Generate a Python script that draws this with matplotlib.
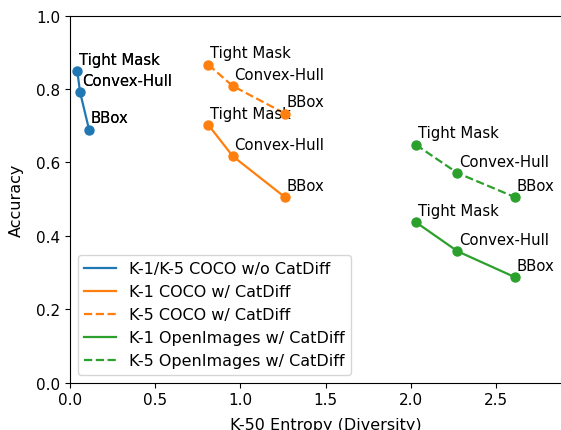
import matplotlib
matplotlib.use('Agg')
import matplotlib.pyplot as plt

# entropy (x) and accuracy (y) for each setting, ordered Tight Mask / Convex-Hull / BBox
point_labels = ['Tight Mask', 'Convex-Hull', 'BBox']

base_x = [0.043, 0.059, 0.112]
base_y = [0.848, 0.791, 0.689]

coco_x = [0.812, 0.955, 1.262]
coco_k1_y = [0.702, 0.617, 0.505]
coco_k5_y = [0.866, 0.808, 0.733]

oi_x = [2.030, 2.274, 2.613]
oi_k1_y = [0.437, 0.358, 0.287]
oi_k5_y = [0.648, 0.571, 0.505]

series = [
    ('K-1/K-5 COCO w/o CatDiff', base_x, base_y, 'C0', '-'),
    ('K-1 COCO w/ CatDiff', coco_x, coco_k1_y, 'C1', '-'),
    ('K-5 COCO w/ CatDiff', coco_x, coco_k5_y, 'C1', '--'),
    ('K-1 OpenImages w/ CatDiff', oi_x, oi_k1_y, 'C2', '-'),
    ('K-5 OpenImages w/ CatDiff', oi_x, oi_k5_y, 'C2', '--'),
]


def main():
    fig = plt.figure(figsize=(5.61, 4.31), dpi=100)
    ax = fig.add_axes([0.1248, 0.1097, 1.036 - 0.1248, 0.852])

    for label, xs, ys, color, ls in series:
        ax.plot(xs, ys, color=color, linestyle=ls, linewidth=1.6, label=label)
        ax.scatter(xs, ys, color=color, s=42, zorder=3)
        # baseline is drawn for K-1 and K-5, so its labels get printed twice
        repeat = 2 if label.startswith('K-1/K-5') else 1
        for _ in range(repeat):
            for x, y, name in zip(xs, ys, point_labels):
                ax.text(x + 0.01, y + 0.02, name, fontsize=10.7)

    ax.set_xlim(0, 3.0)
    ax.set_ylim(0, 1.0)
    ax.set_xticks([0.0, 0.5, 1.0, 1.5, 2.0, 2.5])
    ax.set_yticks([0.0, 0.2, 0.4, 0.6, 0.8, 1.0])
    ax.tick_params(labelsize=11)
    ax.set_xlabel('K-50 Entropy (Diversity)', fontsize=11.5, labelpad=7)
    ax.set_ylabel('Accuracy', fontsize=11.5, labelpad=8.5)
    ax.legend(loc='lower left', fontsize=11.5)

    fig.savefig('out.png', dpi=100)


if __name__ == '__main__':
    main()
